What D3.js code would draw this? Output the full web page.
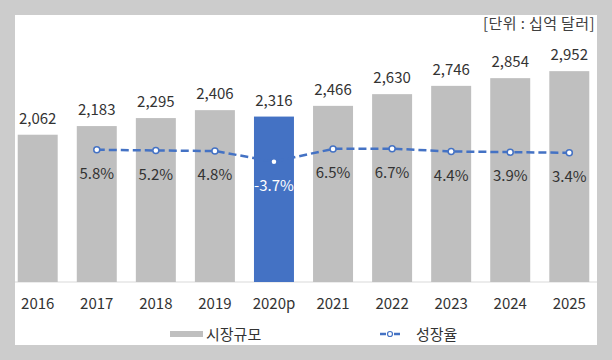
<!DOCTYPE html>
<html>
<head>
<meta charset="utf-8">
<script src="https://cdn.jsdelivr.net/npm/d3@7"></script>
<style>
  html, body { margin: 0; padding: 0; background: #cccccc; }
  svg { display: block; }
  text { font-family: "Noto Sans CJK KR", "Noto Sans", sans-serif; }
</style>
</head>
<body>
<script>
const years = ["2016","2017","2018","2019","2020p","2021","2022","2023","2024","2025"];
const marketSize = [2062, 2183, 2295, 2406, 2316, 2466, 2630, 2746, 2854, 2952];
const growthRate = [null, 5.8, 5.2, 4.8, -3.7, 6.5, 6.7, 4.4, 3.9, 3.4];
const growthLabels = ["", "5.8%", "5.2%", "4.8%", "-3.7%", "6.5%", "6.7%", "4.4%", "3.9%", "3.4%"];
const highlightYear = "2020p";
const unitText = "[단위 : 십억 달러]";
const legendLabels = ["시장규모", "성장율"];

const W = 612, H = 360;
const svg = d3.select("body").append("svg").attr("width", W).attr("height", H);

// background
svg.append("rect").attr("x", 0).attr("y", 0).attr("width", W).attr("height", H).attr("fill", "#cccccc");
svg.append("rect").attr("x", 15).attr("y", 15).attr("width", 582).attr("height", 330).attr("fill", "#ffffff");

const x = d3.scaleBand().domain(years).range([5.9, 601.1]).paddingInner(0.323).paddingOuter(0.2);
const y = d3.scaleLinear().domain([0, 3500]).range([282, 32]);
const y2 = d3.scaleLinear().domain([-100, 100]).range([282, 32]);

const textColor = "#333333";
const gray = "#bfbfbf", blue = "#4472c4";

// axis line
svg.append("line").attr("x1", 15).attr("x2", 597).attr("y1", 282).attr("y2", 282)
  .attr("stroke", "#d9d9d9").attr("stroke-width", 1);

// bars
svg.append("g").selectAll("rect").data(years).join("rect")
  .attr("x", d => x(d))
  .attr("y", (d, i) => y(marketSize[i]))
  .attr("width", x.bandwidth())
  .attr("height", (d, i) => y(0) - y(marketSize[i]))
  .attr("fill", d => d === highlightYear ? blue : gray);

// bar value labels
svg.append("g").selectAll("text").data(years).join("text")
  .attr("x", d => x(d) + x.bandwidth() / 2)
  .attr("y", (d, i) => y(marketSize[i]) - 11)
  .attr("text-anchor", "middle")
  .attr("font-size", 15)
  .attr("fill", textColor)
  .text((d, i) => d3.format(",")(marketSize[i]));

// x axis tick labels
const xAxis = d3.axisBottom(x).tickSize(0).tickPadding(0);
const gx = svg.append("g").attr("transform", "translate(0,282)").call(xAxis);
gx.select(".domain").remove();
gx.selectAll("text")
  .attr("y", 26.5)
  .attr("dy", null)
  .attr("font-size", 15)
  .attr("font-family", "\"Noto Sans CJK KR\", \"Noto Sans\", sans-serif")
  .attr("fill", textColor);

// growth line
const pts = years.map((d, i) => ({ year: d, v: growthRate[i], label: growthLabels[i] })).filter(p => p.v !== null);
const line = d3.line().x(p => x(p.year) + x.bandwidth() / 2).y(p => y2(p.v));
svg.append("path").datum(pts)
  .attr("d", line)
  .attr("fill", "none")
  .attr("stroke", blue)
  .attr("stroke-width", 2.5)
  .attr("stroke-dasharray", "8,4");

svg.append("g").selectAll("circle").data(pts).join("circle")
  .attr("cx", p => x(p.year) + x.bandwidth() / 2)
  .attr("cy", p => y2(p.v))
  .attr("r", 3)
  .attr("fill", "#ffffff")
  .attr("stroke", blue)
  .attr("stroke-width", 1.5);

svg.append("g").selectAll("text").data(pts).join("text")
  .attr("x", p => x(p.year) + x.bandwidth() / 2)
  .attr("y", p => y2(p.v) + 29)
  .attr("text-anchor", "middle")
  .attr("font-size", 15)
  .attr("fill", p => p.year === highlightYear ? "#ffffff" : textColor)
  .text(p => p.label);

// unit text
svg.append("text").attr("x", 595).attr("y", 28.5)
  .attr("text-anchor", "end").attr("font-size", 15).attr("fill", "#404040")
  .attr("letter-spacing", 0.4)
  .text(unitText);

// legend
const lg = svg.append("g");
lg.append("rect").attr("x", 170).attr("y", 331).attr("width", 33).attr("height", 6).attr("fill", gray);
lg.append("text").attr("x", 206).attr("y", 339.5).attr("font-size", 15).attr("fill", textColor).text(legendLabels[0]);
lg.append("line").attr("x1", 380).attr("x2", 386).attr("y1", 334).attr("y2", 334).attr("stroke", blue).attr("stroke-width", 2.5);
lg.append("line").attr("x1", 394).attr("x2", 400).attr("y1", 334).attr("y2", 334).attr("stroke", blue).attr("stroke-width", 2.5);
lg.append("circle").attr("cx", 390).attr("cy", 334).attr("r", 2.5).attr("fill", "#fff").attr("stroke", blue).attr("stroke-width", 1.2);
lg.append("text").attr("x", 416).attr("y", 339.5).attr("font-size", 15).attr("fill", textColor).text(legendLabels[1]);
</script>
</body>
</html>
